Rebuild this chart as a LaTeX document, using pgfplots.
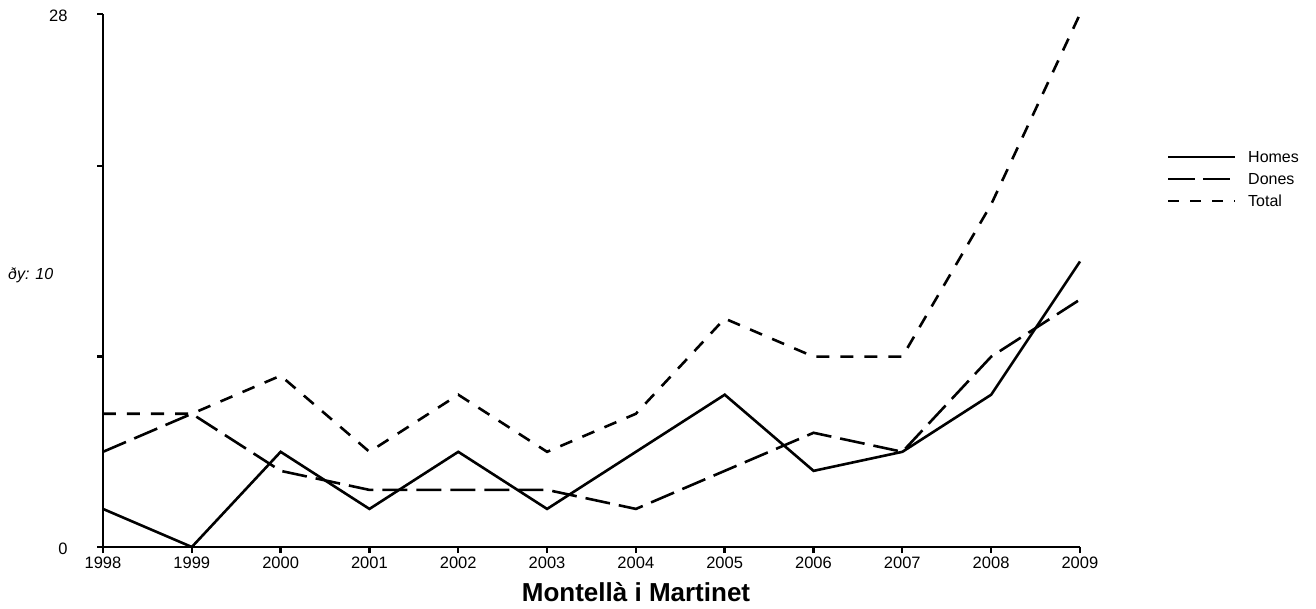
\documentclass[border=0pt]{standalone}
\usepackage{fontspec}
\setmainfont{Liberation Sans}
\usepackage{pgfplots}
\pgfplotsset{compat=1.18}

\begin{document}
\begin{tikzpicture}
  \begin{axis}[
    name=main,
    scale only axis,
    width=977pt, height=533pt,
    at={(0,0)}, anchor=south west,
    xmin=1998, xmax=2009,
    ymin=0, ymax=28,
    axis x line*=bottom,
    axis y line*=left,
    axis line style={line width=2.8pt, -},
    xtick={1998,...,2009},
    ytick={0,10,20,28},
    yticklabels={0,,,28},
    tick align=outside,
    major tick length=6pt,
    tick style={line width=2.4pt, black},
    x tick label style={/pgf/number format/1000 sep={}},
    /pgf/number format/assume math mode=true,
    ticklabel style={font=\fontsize{16.5}{18}\selectfont},
    yticklabel style={xshift=-26pt, yshift=-2pt},
    xticklabel style={yshift=0pt},
    clip=false,
  ]
    \addplot[black, line width=2.6pt] coordinates {
      (1998,2)(1999,0)(2000,5)(2001,2)(2002,5)(2003,2)
      (2004,5)(2005,8)(2006,4)(2007,5)(2008,8)(2009,15)
    };
    \addplot[black, line width=2.6pt, dash pattern=on 25pt off 9pt] coordinates {
      (1998,5)(1999,7)(2000,4)(2001,3)(2002,3)(2003,3)
      (2004,2)(2005,4)(2006,6)(2007,5)(2008,10)(2009,13)
    };
    \addplot[black, line width=2.6pt, dash pattern=on 13pt off 11pt] coordinates {
      (1998,7)(1999,7)(2000,9)(2001,5)(2002,8)(2003,5)
      (2004,7)(2005,12)(2006,10)(2007,10)(2008,18)(2009,28)
    };
  \end{axis}
  % legend, title and side label placed in picture points (1pt = 1px)
  \begin{scope}[line width=2.6pt]
    \draw (1065pt,390pt) -- (1132pt,390pt);
    \draw[dash pattern=on 27pt off 8pt] (1065pt,368pt) -- (1132pt,368pt);
    \draw[dash pattern=on 11pt off 11pt] (1065pt,346pt) -- (1132pt,346pt);
  \end{scope}
  \node[anchor=west, inner sep=0, font=\fontsize{16}{18}\selectfont] at (1145pt,390pt) {Homes};
  \node[anchor=west, inner sep=0, font=\fontsize{16}{18}\selectfont] at (1145pt,368pt) {Dones};
  \node[anchor=west, inner sep=0, font=\fontsize{16}{18}\selectfont] at (1145pt,346pt) {Total};
  \node[anchor=base, inner sep=0, font=\bfseries\fontsize{26}{29}\selectfont] at (533pt,-54pt) {Montellà i Martinet};
  \node[anchor=west, inner sep=0, font=\itshape\fontsize{16}{18}\selectfont] at (-95pt,272pt) {ðy: 10};
  \useasboundingbox (-103pt,-61pt) rectangle (1213pt,547pt);
\end{tikzpicture}
\end{document}
